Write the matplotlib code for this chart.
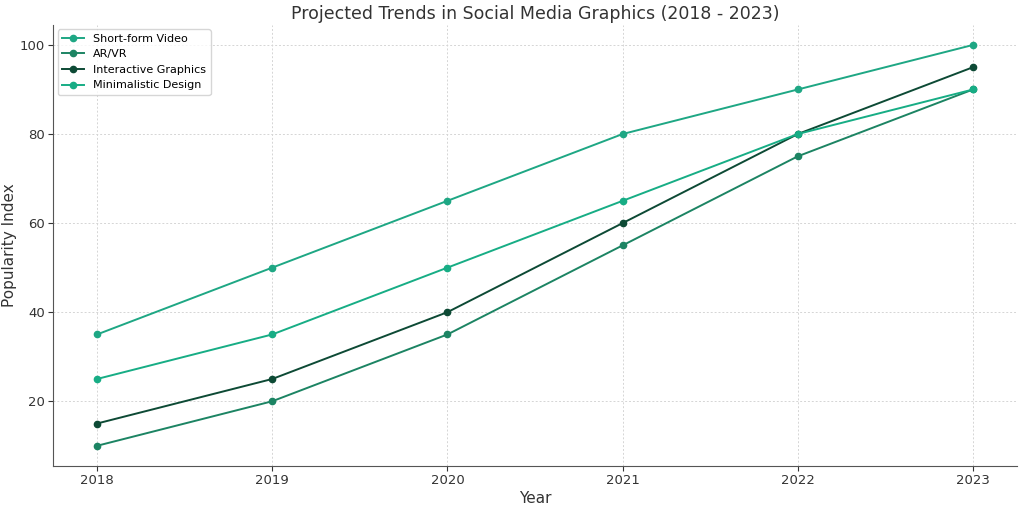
import matplotlib.pyplot as plt

years = [2018, 2019, 2020, 2021, 2022, 2023]
short_form = [35, 50, 65, 80, 90, 100]
ar_vr = [10, 20, 35, 55, 75, 90]
interactive = [15, 25, 40, 60, 80, 95]
minimalistic = [25, 35, 50, 65, 80, 90]

series_names = ['Short-form Video', 'AR/VR', 'Interactive Graphics', 'Minimalistic Design']
series_values = [short_form, ar_vr, interactive, minimalistic]
colors = ['#1ea784', '#1c8463', '#0d4a35', '#17ad85']

fig, ax = plt.subplots(figsize=(10.24, 5.08), dpi=100)

for name, vals, c in zip(series_names, series_values, colors):
    ax.plot(years, vals, marker='o', markersize=4.5, linewidth=1.4, color=c, label=name)

ax.set_title('Projected Trends in Social Media Graphics (2018 - 2023)', fontsize=12.5, color='#333333', pad=4)
ax.set_xlabel('Year', fontsize=11, color='#333333', labelpad=3)
ax.set_ylabel('Popularity Index', fontsize=11, color='#333333', labelpad=2)
ax.set_xticks(years)
ax.tick_params(colors='#333333', labelsize=9.5, pad=2.5)
ax.grid(True, linestyle=(0, (2, 2)), color='#d5d5d5', linewidth=0.7)
for s in ['top', 'right']:
    ax.spines[s].set_visible(False)
for s in ['left', 'bottom']:
    ax.spines[s].set_color('#555555')
ax.legend(loc='upper left', fontsize=8, borderaxespad=0.4)

plt.subplots_adjust(left=0.052, right=0.993, top=0.951, bottom=0.083)
plt.savefig('out.png')
